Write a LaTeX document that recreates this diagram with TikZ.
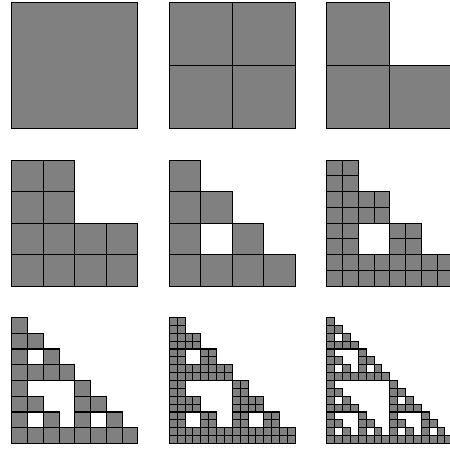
\documentclass[tikz,border=0pt]{standalone}
\usepackage{xcolor}
\usepackage{tikz}
\definecolor{cellgray}{RGB}{128,128,128}
% 1 if the two numbers share a set bit (4 bits are enough here)
\pgfmathdeclarefunction{bitclash}{2}{%
  \pgfmathparse{int(mod(#1,2)*mod(#2,2)+mod(floor(#1/2),2)*mod(floor(#2/2),2)+mod(floor(#1/4),2)*mod(floor(#2/4),2)+mod(floor(#1/8),2)*mod(floor(#2/8),2))}%
}
% n x n grid at (x,y), side 126, cells kept by the pattern one step coarser when shift=1
\newcommand{\carpet}[4]{%
  \pgfmathtruncatemacro\lastcell{#3-1}
  \pgfmathsetmacro\cellsize{126/#3}
  \foreach \c in {0,...,\lastcell}
    \foreach \r in {0,...,\lastcell} {
      \pgfmathtruncatemacro\clash{bitclash(floor(\c/2^#4),floor(\r/2^#4))}
      \ifnum\clash=0
        \draw[cell] ({#1+\c*\cellsize},{#2+\r*\cellsize}) rectangle ++(\cellsize,\cellsize);
      \fi
    }
}

\begin{document}
\begin{tikzpicture}[
    x=0.02cm, y=0.02cm,
    cell/.style={draw=black, fill=cellgray, line width=0.6pt}
]
\clip (0,0) rectangle (450,451);
\fill[white] (0,0) rectangle (450,451);

\foreach \px/\py/\n/\s in {
    11.8/322.3/1/0, 169.3/322.3/2/1, 326.8/322.3/2/0,
    11.8/164.9/4/1, 169.3/164.9/4/0, 326.8/164.9/8/1,
    11.8/7.5/8/0,   169.3/7.5/16/1,  326.8/7.5/16/0} {
    \carpet{\px}{\py}{\n}{\s}
}

\end{tikzpicture}
\end{document}
